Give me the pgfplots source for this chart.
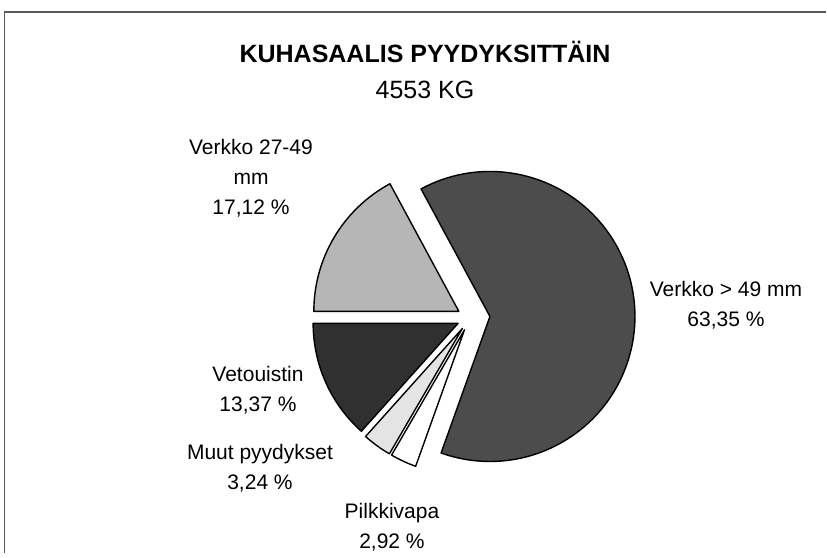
\documentclass[border=0pt]{standalone}
\usepackage{fontspec}
\setmainfont{Liberation Sans}
\usepackage{pgfplots}
\usepackage{pgfplotstable}
\pgfplotsset{compat=1.18}

\definecolor{lg}{RGB}{182,182,182}
\definecolor{dg}{RGB}{76,76,76}
\definecolor{wh}{RGB}{255,255,255}
\definecolor{vl}{RGB}{228,228,228}
\definecolor{vd}{RGB}{48,48,48}

% share (%), fill, explode offset (px); clockwise from 9 o'clock
\pgfplotstableread[col sep=comma]{
pct,shade,off
17.12,lg,13
63.35,dg,20
2.92,wh,13
3.24,vl,13
13.37,vd,13
}\pies

\begin{document}
\begin{tikzpicture}
\begin{axis}[x=0.5pt,y=0.5pt,xmin=0,xmax=827,ymin=0,ymax=553,
  scale only axis,axis lines=none,clip=false]
\path (axis cs:0,0) rectangle (axis cs:827,553);
% frame
\draw[gray!70!black,line width=0.8pt] (axis cs:4.5,0) -- (axis cs:4.5,541) -- (axis cs:826,541);
% wedges
\def\a{180}
\pgfplotsforeachungrouped \i in {0,...,4}{%
  \pgfplotstablegetelem{\i}{pct}\of\pies \let\p=\pgfplotsretval
  \pgfplotstablegetelem{\i}{shade}\of\pies \let\s=\pgfplotsretval
  \pgfplotstablegetelem{\i}{off}\of\pies \let\o=\pgfplotsretval
  \pgfmathsetmacro{\b}{\a-3.6*\p}
  \pgfmathsetmacro{\m}{(\a+\b)/2}
  \pgfmathsetmacro{\cx}{470+\o*cos(\m)}
  \pgfmathsetmacro{\cy}{235+\o*sin(\m)}
  \edef\temp{\noexpand\filldraw[fill=\s,draw=black,line width=0.7pt,line join=round]
    (axis cs:\cx,\cy) -- ++(\a:72.5pt) arc[start angle=\a,end angle=\b,radius=72.5pt] -- cycle;}%
  \temp
  \global\let\a=\b
}
% title
\node[font=\fontsize{12.5}{14}\selectfont\bfseries] at (axis cs:425,501) {KUHASAALIS PYYDYKSITTÄIN};
\node[font=\fontsize{12.5}{14}\selectfont] at (axis cs:425,463) {4553 KG};
% labels
\node[font=\fontsize{10.5}{15}\selectfont,align=center] at (axis cs:251,375) {Verkko 27-49\\mm\\17,12 \%};
\node[font=\fontsize{10.5}{15}\selectfont,align=center] at (axis cs:726,248) {Verkko > 49 mm\\63,35 \%};
\node[font=\fontsize{10.5}{15}\selectfont,align=center] at (axis cs:258,163) {Vetouistin\\13,37 \%};
\node[font=\fontsize{10.5}{15}\selectfont,align=center] at (axis cs:260,85) {Muut pyydykset\\3,24 \%};
\node[font=\fontsize{10.5}{15}\selectfont,align=center] at (axis cs:392,26) {Pilkkivapa\\2,92 \%};
\end{axis}
\end{tikzpicture}
\end{document}
